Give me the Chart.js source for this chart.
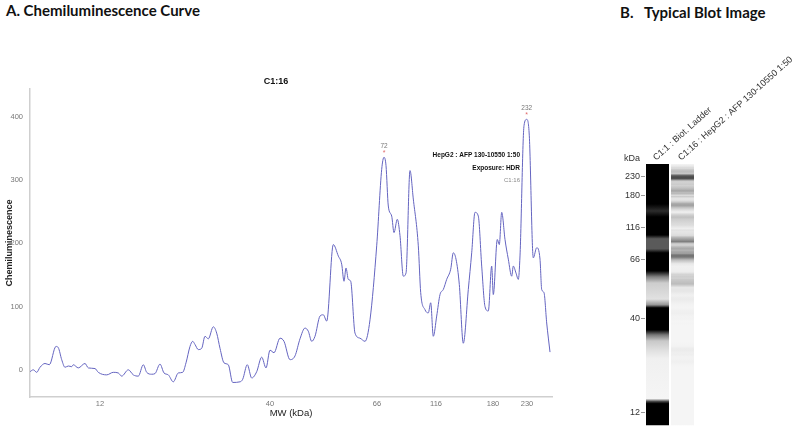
<!DOCTYPE html>
<html><head><meta charset="utf-8">
<script src="https://cdn.jsdelivr.net/npm/chart.js@4.4.1/dist/chart.umd.min.js"></script>
<style>
html,body{margin:0;padding:0;background:#fff;width:800px;height:432px;overflow:hidden;}
.hd{position:absolute;font-family:Lato,"Liberation Sans",Arial,sans-serif;font-weight:bold;font-size:15px;color:#111;white-space:pre;line-height:18px;}
#hA{left:6px;top:1px;}
#hB{left:620px;top:3px;}
#cA{position:absolute;left:0;top:0;}
#cB{position:absolute;left:600px;top:0;}
</style></head>
<body>
<div class="hd" id="hA">A. Chemiluminescence Curve</div>
<div class="hd" id="hB">B.   Typical Blot Image</div>
<canvas id="cA" width="600" height="432"></canvas>
<canvas id="cB" width="200" height="432"></canvas>
<script>
// migration position along the MW axis (axis units) and signal
const curvePos = [0,3.3,6.7,10,15,19.3,26,28.3,31.7,35,
 38.3,41.7,43.3,48.3,55,58.3,65,68.3,76.7,83.3,
 88.3,91.7,98.3,103.3,108.3,113.3,116.7,121.7,125,130,
 134,138.3,143.3,148.3,152.7,156,160,162.7,165,168.3,
 171.7,175,178.3,183.3,186.7,190,194,198.3,202.7,210,
 212.7,217.3,221.7,226.7,231.7,236,240,244,250,254,
 260,265,270,275,278.3,281.7,285,290,293.3,296.7,
 303.3,308.3,311.7,314,316,318.3,320.7,325,330,335,
 340,346.7,351.7,354,356,358.3,361.7,364,367.3,370,
 373.3,376,380,383.3,388.3,390.7,395,398.3,400.7,403.3,
 406.7,410,413.3,416.7,420.7,423.3,426,429.3,433.3,438.3,
 441.7,445,448.3,451.7,455,458.3,461.7,463.3,467.3,469.3,
 471.7,475,478.3,481.7,483.3,486,488.3,490,494,496.7,
 499.3,503.3,506.7,510,511.7,514,516.7,520];
const curveValues = [-3,0,-4,4,10,8,37,35,16,4,
 6,5,8,3,10,3,2,-4,-8,-4,
 -5,-10,0,-8,-10,8,-4,-7,-6,9,
 -5,-8,-19,-5,-4,11,37,45,40,32,
 34,53,49,68,58,34,11,8,-20,-19,
 -15,8,-13,-3,20,3,31,27,50,45,
 16,22,49,66,61,45,53,85,87,77,
 198,180,167,140,161,143,140,58,50,45,
 79,196,317,336,323,259,243,217,238,212,
 148,153,315,270,196,122,95,90,106,53,
 85,119,127,143,159,185,175,135,42,127,
 185,249,243,164,100,93,164,119,206,198,
 249,206,175,148,164,153,143,180,386,396,
 370,177,193,175,127,122,74,28];
const mwTickPos = [70,240,347,406,463,497];
const mwTickLabels = ['12','40','66','116','180','230'];
const yTickValues = [0,100,200,300,400];
const peakPos = [354,496.7];
const peakValues = [336,396];
const peakLabels = ['72','232'];
const ladderPos = [520.5,448,435.5,424.7,392,385,367,359.6,327,316,305,276,265.5,260,220,211,200,182,168,95.6,90,86.5,46.7];
const ladderSignal = [500,500,435,500,500,371,371,500,500,308,159,103,273,500,500,324,171,103,43,0,414,500,500];
const laneNames = ['C1:1 : Biot. Ladder','C1:16 : HepG2 : AFP 130-10550 1:50'];
const laneSpan = [46.7,520.5];

const FONT = '"Liberation Sans", Arial, sans-serif';
Chart.defaults.font.family = FONT;

const annotA = {
  id:'annotA',
  afterDatasetsDraw(chart){
    const {ctx, chartArea:a, scales:{x,y}} = chart;
    ctx.save();
    ctx.textBaseline='middle';
    ctx.textAlign='center';
    ctx.fillStyle='#111';
    ctx.font='bold 9px '+FONT;
    ctx.fillText('C1:16', a.left+246, a.top-7);
    for(let i=0;i<peakPos.length;i++){
      const px=x.getPixelForValue(peakPos[i]), py=y.getPixelForValue(peakValues[i]);
      ctx.fillStyle='#e06a6a';
      ctx.font='7px '+FONT;
      ctx.fillText('*', px, py-4);
      ctx.fillStyle='#777';
      ctx.font='6.5px '+FONT;
      ctx.fillText(peakLabels[i], px, py-11);
    }
    ctx.textAlign='right';
    ctx.fillStyle='#111';
    ctx.font='bold 6.5px '+FONT;
    ctx.fillText('HepG2 : AFP 130-10550 1:50', a.right-32, 155);
    ctx.fillText('Exposure: HDR', a.right-32, 168);
    ctx.fillStyle='#888';
    ctx.font='6px '+FONT;
    ctx.fillText('C1:16', a.right-32, 180);
    ctx.restore();
  }
};

new Chart(document.getElementById('cA'), {
  type:'line',
  data:{datasets:[{
    data: curvePos.map((p,i)=>({x:p,y:curveValues[i]})),
    borderColor:'#6464c0', borderWidth:1, pointRadius:0, fill:false,
    cubicInterpolationMode:'monotone'
  }]},
  options:{
    responsive:false, animation:false,
    layout:{padding:{left:0,top:89,right:48,bottom:0}},
    plugins:{legend:{display:false},tooltip:{enabled:false}},
    scales:{
      x:{type:'linear',min:0,max:522,
        afterBuildTicks:s=>{s.ticks=mwTickPos.map(v=>({value:v}));},
        afterFit:s=>{s.height=35;},
        grid:{display:false,drawTicks:false},
        border:{color:'#cfcfcf',width:1.5},
        ticks:{color:'#777',font:{size:7.5},padding:2,maxRotation:0,autoSkip:false,callback:(v,i)=>mwTickLabels[i]},
        title:{display:true,text:'MW (kDa)',color:'#222',font:{size:9.5},padding:{top:0,bottom:13}}
      },
      y:{type:'linear',min:-43,max:444,
        afterBuildTicks:s=>{s.ticks=yTickValues.map(v=>({value:v}));},
        afterFit:s=>{s.width=30;},
        grid:{display:false,drawTicks:false},
        border:{color:'#cfcfcf',width:1.5},
        ticks:{color:'#777',font:{size:7.5},padding:7},
        title:{display:true,text:'Chemiluminescence',color:'#222',font:{size:9,weight:'bold'},padding:{top:4,bottom:0}}
      }
    }
  },
  plugins:[annotA]
});

function greyFor(v){
  const t=Math.max(0,v)/400;
  const g=Math.max(0,Math.min(245,Math.round(245-175*Math.pow(t,1.6))));
  return 'rgb('+g+','+g+','+g+')';
}
function laneFill(c){
  const chart=c.chart, a=chart.chartArea;
  if(!a) return '#ddd';
  const ys=chart.scales.y;
  const pos=c.dataIndex===0?ladderPos:curvePos;
  const sig=c.dataIndex===0?ladderSignal:curveValues;
  const g=chart.ctx.createLinearGradient(0,a.top,0,a.bottom);
  for(let i=0;i<pos.length;i++){
    const off=(ys.getPixelForValue(pos[i])-a.top)/(a.bottom-a.top);
    if(off>=0&&off<=1) g.addColorStop(off,greyFor(sig[i]));
  }
  return g;
}
const laneLabels = {
  id:'laneLabels',
  afterDraw(chart){
    const {ctx, chartArea:a} = chart;
    const meta=chart.getDatasetMeta(0);
    ctx.save();
    ctx.fillStyle='#333';
    ctx.font='9px '+FONT;
    ctx.textBaseline='middle';
    ctx.textAlign='right';
    ctx.fillText('kDa', a.left-5, a.top-5);
    ctx.textAlign='left';
    meta.data.forEach((bar,i)=>{
      ctx.save();
      ctx.translate(bar.x-3, a.top-5);
      ctx.rotate(-42*Math.PI/180);
      ctx.fillText(laneNames[i],0,0);
      ctx.restore();
    });
    ctx.restore();
  }
};
new Chart(document.getElementById('cB'), {
  type:'bar',
  data:{labels:laneNames,datasets:[{
    data: laneNames.map(()=>laneSpan.slice()),
    backgroundColor: laneFill, borderWidth:0, borderSkipped:false,
    barPercentage:0.92, categoryPercentage:1
  }]},
  options:{
    responsive:false, animation:false,
    layout:{padding:{left:0,right:105,top:164,bottom:4}},
    plugins:{legend:{display:false},tooltip:{enabled:false}},
    scales:{
      x:{display:false},
      y:{type:'linear',min:laneSpan[0],max:laneSpan[1],
        afterBuildTicks:s=>{s.ticks=mwTickPos.map(v=>({value:v}));},
        afterFit:s=>{s.width=45;},
        grid:{drawOnChartArea:false,tickLength:4,color:'#999'},
        border:{display:false},
        ticks:{color:'#333',font:{size:9},padding:1,callback:(v,i)=>mwTickLabels[i]}
      }
    }
  },
  plugins:[laneLabels]
});
</script>
</body></html>
